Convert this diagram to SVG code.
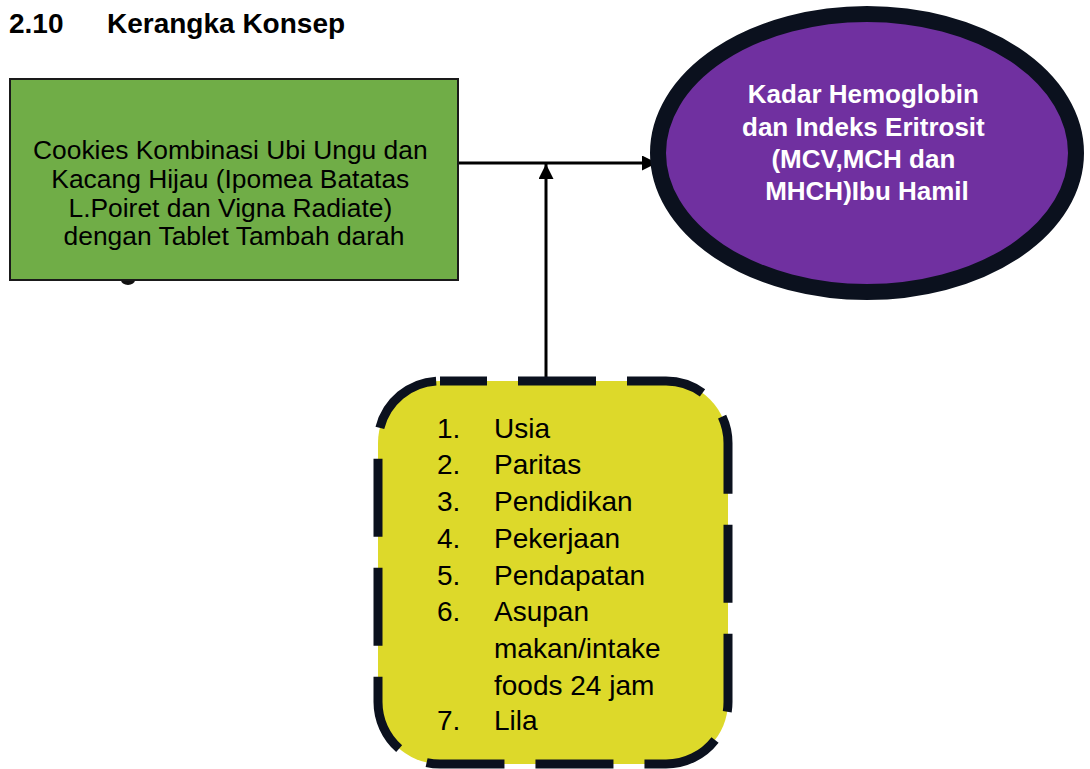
<svg xmlns="http://www.w3.org/2000/svg" width="1090" height="769" viewBox="0 0 1090 769">
<style>
.t{font-family:"Liberation Sans",Arial,sans-serif;fill:#000}
.b{font-weight:bold}
.w{fill:#fff}
.ln{stroke:#000;stroke-width:3;fill:none}
</style>
<defs>
<marker id="ah" markerWidth="16" markerHeight="16" refX="15" refY="7.5" orient="auto" markerUnits="userSpaceOnUse">
<path d="M0,0 L15,7.5 L0,15 Z" fill="#000"/>
</marker>
</defs>
<rect width="1090" height="769" fill="#fff"/>
<text class="t b" x="9" y="33" font-size="28">2.10</text>
<text class="t b" x="107" y="33" font-size="28">Kerangka Konsep</text>
<g id="connectors">
<line class="ln" x1="458" y1="163" x2="657" y2="163" marker-end="url(#ah)"/>
<line class="ln" x1="546" y1="380" x2="546" y2="164" marker-end="url(#ah)"/>
</g>
<g id="node-cookies">
<path d="M121,280 a7,5 0 0 0 14,0 Z" fill="#111"/>
<rect x="10" y="79" width="448" height="201" fill="#70AD47" stroke="#1a1a1a" stroke-width="2"/>
<text class="t" font-size="26.4" text-anchor="middle">
<tspan x="234" y="159">Cookies Kombinasi Ubi Ungu dan</tspan>
<tspan x="234" y="188">Kacang Hijau (Ipomea Batatas</tspan>
<tspan x="234" y="217">L.Poiret dan Vigna Radiate)</tspan>
<tspan x="234" y="245">dengan Tablet Tambah darah</tspan>
</text>
</g>
<g id="node-kadar">
<ellipse cx="867" cy="153" rx="209" ry="139" fill="#7030A0" stroke="#0B111E" stroke-width="16"/>
<text class="t b w" font-size="26" text-anchor="middle">
<tspan x="867" y="103">Kadar Hemoglobin</tspan>
<tspan x="867" y="136">dan Indeks Eritrosit</tspan>
<tspan x="867" y="168">(MCV,MCH dan</tspan>
<tspan x="867" y="200">MHCH)Ibu Hamil</tspan>
</text>
</g>
<g id="node-faktor">
<rect x="378" y="381" width="350" height="383" rx="62" ry="62" fill="#DDD92A" stroke="#0B111E" stroke-width="9" stroke-dasharray="78 31" stroke-dashoffset="31"/>
<g class="t" font-size="28">
<text x="437" y="438">1.</text><text x="494" y="438">Usia</text>
<text x="437" y="474">2.</text><text x="494" y="474">Paritas</text>
<text x="437" y="511">3.</text><text x="494" y="511">Pendidikan</text>
<text x="437" y="548">4.</text><text x="494" y="548">Pekerjaan</text>
<text x="437" y="585">5.</text><text x="494" y="585">Pendapatan</text>
<text x="437" y="621">6.</text><text x="494" y="621">Asupan</text>
<text x="494" y="658">makan/intake</text>
<text x="494" y="695">foods 24 jam</text>
<text x="437" y="730">7.</text><text x="494" y="730">Lila</text>
</g>
</g>
</svg>
